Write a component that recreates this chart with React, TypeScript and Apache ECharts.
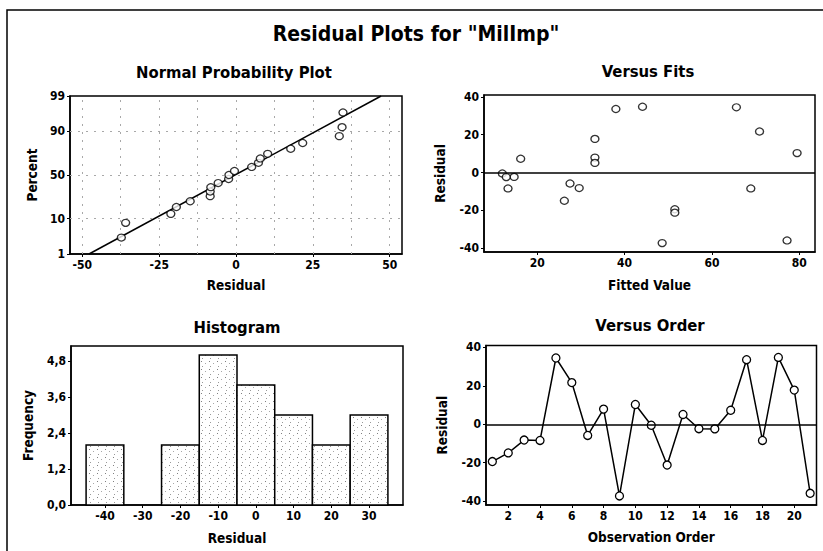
import React, { useEffect, useRef } from 'react';
import * as echarts from 'echarts';

const FONT = "Tahoma, 'DejaVu Sans Condensed', 'DejaVu Sans', sans-serif";

// ---- data ----
const observationOrder = [1, 2, 3, 4, 5, 6, 7, 8, 9, 10, 11, 12, 13, 14, 15, 16, 17, 18, 19, 20, 21];
const residuals = [-19.4, -14.9, -8.2, -8.4, 34.5, 21.7, -5.8, 7.9, -37.3, 10.3, -0.5, -21.2, 5.1, -2.3, -2.4, 7.3, 33.6, -8.4, 34.8, 17.8, -35.9];
const fittedValues = [51.5, 26.2, 29.6, 13.3, 65.6, 70.9, 27.5, 33.2, 48.6, 79.5, 12.0, 51.5, 33.2, 14.7, 12.9, 16.2, 38.0, 68.9, 44.1, 33.2, 77.2];

const histBinCenters = [-40, -30, -20, -10, 0, 10, 20, 30];
const histCounts = [2, 0, 2, 5, 4, 3, 2, 3];
const histBinWidth = 10;

const fitLineResidual = [-47.8, 47.2];
const fitLinePercent = [1, 99];

const normalPercentTicks = [1, 10, 50, 90, 99];
const normalResidualTicks = [-50, -25, 0, 25, 50];
const normalGridResidual = [-50, -37.5, -25, -12.5, 0, 12.5, 25, 37.5, 50];
const normalGridPercent = [10, 50, 90];
const fitsTicks = [20, 40, 60, 80];
const residualTicks = [-40, -20, 0, 20, 40];
const histXTicks = [-40, -30, -20, -10, 0, 10, 20, 30];
const histYTicks = [0, 1.2, 2.4, 3.6, 4.8];
const orderTicks = [2, 4, 6, 8, 10, 12, 14, 16, 18, 20];

// inverse standard normal CDF (Acklam)
function invNorm(p: number): number {
  const a = [-3.969683028665376e1, 2.209460984245205e2, -2.759285104469687e2, 1.38357751867269e2, -3.066479806614716e1, 2.506628277459239];
  const b = [-5.447609879822406e1, 1.615858368580409e2, -1.556989798598866e2, 6.680131188771972e1, -1.328068155288572e1];
  const c = [-7.784894002430293e-3, -3.223964580411365e-1, -2.400758277161838, -2.549732539343734, 4.374664141464968, 2.938163982698783];
  const d = [7.784695709041462e-3, 3.224671290700398e-1, 2.445134137142996, 3.754408661907416];
  const pl = 0.02425;
  let q: number, r: number;
  if (p < pl) {
    q = Math.sqrt(-2 * Math.log(p));
    return (((((c[0] * q + c[1]) * q + c[2]) * q + c[3]) * q + c[4]) * q + c[5]) / ((((d[0] * q + d[1]) * q + d[2]) * q + d[3]) * q + 1);
  }
  if (p > 1 - pl) {
    q = Math.sqrt(-2 * Math.log(1 - p));
    return -(((((c[0] * q + c[1]) * q + c[2]) * q + c[3]) * q + c[4]) * q + c[5]) / ((((d[0] * q + d[1]) * q + d[2]) * q + d[3]) * q + 1);
  }
  q = p - 0.5;
  r = q * q;
  return (((((a[0] * r + a[1]) * r + a[2]) * r + a[3]) * r + a[4]) * r + a[5]) * q / (((((b[0] * r + b[1]) * r + b[2]) * r + b[3]) * r + b[4]) * r + 1);
}

const zOf = (pct: number) => invNorm(pct / 100);

function makeStipple() {
  const size = 8;
  const cv = document.createElement('canvas');
  cv.width = size;
  cv.height = size;
  const g = cv.getContext('2d');
  if (g) {
    g.fillStyle = '#ffffff';
    g.fillRect(0, 0, size, size);
    g.fillStyle = '#808080';
    g.fillRect(1, 1, 1, 1);
    g.fillStyle = '#a8a8a8';
    g.fillRect(5, 3, 1, 1);
    g.fillStyle = '#999999';
    g.fillRect(2, 6, 1, 1);
  }
  return { image: cv.toDataURL(), repeat: 'repeat', imageWidth: size, imageHeight: size };
}

const axisLineStyle = { show: true, onZero: false, lineStyle: { color: '#000', width: 1.5 } };
const labelBase = { color: '#000', fontSize: 12, fontFamily: FONT, fontWeight: 'bold' as const };
const nameStyle = { color: '#000', fontSize: 13.5, fontFamily: FONT, fontWeight: 'bold' as const };

function xAxisDef(gridIndex: number, min: number, max: number, ticks: number[], name: string, nameGap: number) {
  return {
    type: 'value', gridIndex, min, max,
    name, nameLocation: 'middle', nameGap, nameTextStyle: nameStyle,
    axisLine: axisLineStyle,
    axisTick: { show: true, length: 3, customValues: ticks, lineStyle: { color: '#000', width: 1 } },
    axisLabel: { ...labelBase, margin: 5, customValues: ticks },
    splitLine: { show: false },
  };
}

function yAxisDef(gridIndex: number, min: number, max: number, ticks: number[], name: string, nameGap: number, formatter?: (v: number) => string) {
  return {
    type: 'value', gridIndex, min, max,
    name, nameLocation: 'middle', nameGap, nameTextStyle: nameStyle,
    axisLine: axisLineStyle,
    axisTick: { show: true, length: 3, customValues: ticks, lineStyle: { color: '#000', width: 1 } },
    axisLabel: { ...labelBase, margin: 5, customValues: ticks, formatter },
    splitLine: { show: false },
  };
}

const gridBase = { show: true, borderColor: '#000', borderWidth: 1.5, backgroundColor: 'transparent', containLabel: false };

const zeroLine = {
  silent: true,
  symbol: ['none', 'none'],
  label: { show: false },
  lineStyle: { color: '#000', width: 1.5, type: 'solid' },
  data: [{ yAxis: 0 }],
};

const openCircle = { color: '#fff', borderColor: '#000', borderWidth: 1.3 };

const textStyle = (text: string, size: number) => ({
  text, font: `bold ${size}px ${FONT}`, fill: '#000',
  align: 'center', verticalAlign: 'middle', textAlign: 'center', textVerticalAlign: 'middle',
});

export default function App() {
  const ref = useRef<HTMLDivElement>(null);

  useEffect(() => {
    if (!ref.current) return;
    const chart = echarts.init(ref.current, null, { renderer: 'svg' });

    const n = residuals.length;
    const sorted = [...residuals].sort((a, b) => a - b);
    const normalData = sorted.map((r, i) => [r, invNorm((i + 1 - 0.3) / (n + 0.4))]);
    const fitLineData = fitLineResidual.map((r, i) => [r, zOf(fitLinePercent[i])]);
    const fitsData = fittedValues.map((f, i) => [f, residuals[i]]);
    const orderData = observationOrder.map((o, i) => [o, residuals[i]]);
    const histData = histBinCenters.map((c, i) => [c, histCounts[i]]);
    const stipple = makeStipple();

    const zTicks = normalPercentTicks.map(zOf);
    const zMin = zOf(normalPercentTicks[0]);
    const zMax = zOf(normalPercentTicks[normalPercentTicks.length - 1]);
    const pctFormatter = (v: number) => {
      let best = normalPercentTicks[0];
      let bd = Infinity;
      normalPercentTicks.forEach((p) => {
        const dd = Math.abs(zOf(p) - v);
        if (dd < bd) { bd = dd; best = p; }
      });
      return String(best);
    };

    const gridDash = { color: '#a8a8a8', width: 1, type: [2, 6] as number[] };

    const option: any = {
      animation: false,
      backgroundColor: '#fff',
      textStyle: { fontFamily: FONT },
      grid: [
        { ...gridBase, left: 70, top: 96, width: 332, height: 158 },
        { ...gridBase, left: 484, top: 95, width: 331, height: 157 },
        { ...gridBase, left: 71, top: 346, width: 332, height: 159 },
        { ...gridBase, left: 486, top: 345.5, width: 330.5, height: 159.5 },
      ],
      xAxis: [
        xAxisDef(0, -54, 54, normalResidualTicks, 'Residual', 24),
        xAxisDef(1, 7.8, 83.6, fitsTicks, 'Fitted Value', 26),
        xAxisDef(2, -49, 39, histXTicks, 'Residual', 26),
        xAxisDef(3, 0.6, 21.4, orderTicks, 'Observation Order', 25),
      ],
      yAxis: [
        yAxisDef(0, zMin, zMax, zTicks, 'Percent', 31, pctFormatter),
        yAxisDef(1, -42, 41, residualTicks, 'Residual', 37),
        yAxisDef(2, 0, 5.3, histYTicks, 'Frequency', 36, (v: number) => v.toFixed(1).replace('.', ',')),
        yAxisDef(3, -42, 41, residualTicks, 'Residual', 37),
      ],
      graphic: [
        { type: 'rect', silent: true, z: 0, shape: { x: 7, y: 10, width: 840, height: 570 }, style: { fill: 'none', stroke: '#000', lineWidth: 1.5 } },
        { type: 'text', x: 416, y: 34, style: textStyle('Residual Plots for "MilImp"', 21) },
        { type: 'text', x: 234, y: 72, style: textStyle('Normal Probability Plot', 16.5) },
        { type: 'text', x: 648, y: 71, style: textStyle('Versus Fits', 16.5) },
        { type: 'text', x: 237, y: 327, style: textStyle('Histogram', 16.5) },
        { type: 'text', x: 650, y: 325, style: textStyle('Versus Order', 16.5) },
      ],
      series: [
        {
          name: 'Normal', type: 'scatter', xAxisIndex: 0, yAxisIndex: 0,
          data: normalData, symbol: 'circle', symbolSize: [8, 7], itemStyle: openCircle, z: 3,
          markLine: {
            silent: true, symbol: ['none', 'none'], label: { show: false }, lineStyle: gridDash, z: 1,
            data: [
              ...normalGridResidual.map((v) => ({ xAxis: v })),
              ...normalGridPercent.map((p) => ({ yAxis: zOf(p) })),
            ],
          },
        },
        {
          name: 'Fit', type: 'line', xAxisIndex: 0, yAxisIndex: 0,
          data: fitLineData, symbol: 'none', lineStyle: { color: '#000', width: 1.5 }, z: 2,
        },
        {
          name: 'Fits', type: 'scatter', xAxisIndex: 1, yAxisIndex: 1,
          data: fitsData, symbol: 'circle', symbolSize: [8, 7], itemStyle: openCircle, z: 3,
          markLine: zeroLine,
        },
        {
          name: 'Histogram', type: 'custom', xAxisIndex: 2, yAxisIndex: 2,
          data: histData,
          renderItem: (params: any, api: any) => {
            const c = api.value(0);
            const cnt = api.value(1);
            if (!cnt) return null;
            const p0 = api.coord([c - histBinWidth / 2, cnt]);
            const p1 = api.coord([c + histBinWidth / 2, 0]);
            return {
              type: 'rect',
              shape: { x: p0[0], y: p0[1], width: p1[0] - p0[0], height: p1[1] - p0[1] },
              style: { fill: stipple, stroke: '#000', lineWidth: 1.5 },
            };
          },
        },
        {
          name: 'Order', type: 'line', xAxisIndex: 3, yAxisIndex: 3,
          data: orderData, symbol: 'circle', symbolSize: 8, showAllSymbol: true,
          lineStyle: { color: '#000', width: 1.5 }, itemStyle: openCircle, z: 3,
          markLine: zeroLine,
        },
      ],
    };

    chart.setOption(option);
    return () => chart.dispose();
  }, []);

  return <div ref={ref} style={{ position: 'absolute', left: 0, top: 0, width: 823, height: 551, background: '#fff' }} />;
}
